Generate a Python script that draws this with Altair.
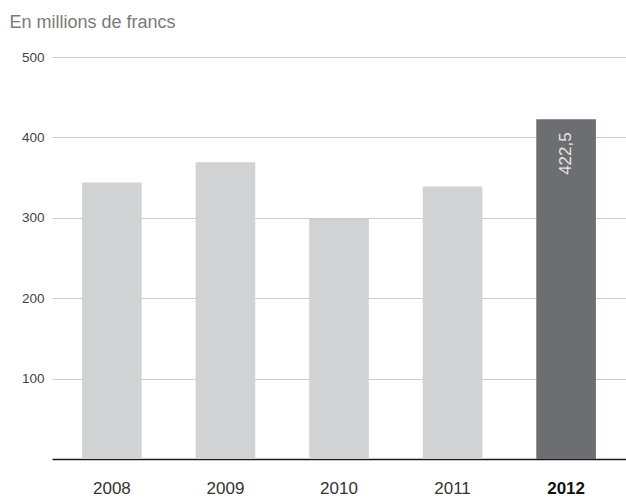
import altair as alt
import pandas as pd

years = ["2008", "2009", "2010", "2011", "2012"]
values = [344.0, 369.0, 298.5, 339.0, 422.5]
labels = ["", "", "", "", "422,5"]
highlight_year = "2012"
y_ticks = [100, 200, 300, 400, 500]

df = pd.DataFrame({"year": years, "value": values, "label": labels})

FONT = "Liberation Sans"

x_enc = alt.X(
    "year:N",
    sort=years,
    title=None,
    scale=alt.Scale(paddingInner=0.475, paddingOuter=0.265),
    axis=alt.Axis(
        labelAngle=0,
        ticks=False,
        domainColor="#1a1a1a",
        domainWidth=1.6,
        labelPadding=21,
        labelFontSize=17,
        labelFont=FONT,
        labelBaseline="top",
        labelColor={"condition": {"test": f"datum.value === '{highlight_year}'", "value": "#111111"}, "value": "#333333"},
        labelFontWeight={"condition": {"test": f"datum.value === '{highlight_year}'", "value": "bold"}, "value": "normal"},
    ),
)

bars = alt.Chart(df).mark_bar().encode(
    x=x_enc,
    y=alt.Y(
        "value:Q",
        title=None,
        scale=alt.Scale(domain=[0, 500], nice=False),
        axis=alt.Axis(
            values=y_ticks,
            domain=False,
            ticks=False,
            gridColor="#cccccc",
            gridWidth=1,
            labelPadding=8,
            labelFontSize=13.5,
            labelFont=FONT,
            labelColor="#444444",
        ),
    ),
    color=alt.condition(
        alt.datum.year == highlight_year,
        alt.value("#6d6e71"),
        alt.value("#d1d2d4"),
    ),
)

text = alt.Chart(df).transform_filter(alt.datum.label != "").mark_text(
    angle=270,
    align="right",
    baseline="middle",
    dx=-13,
    fontSize=17,
    font=FONT,
    color="#e6e6e6",
).encode(
    x=alt.X("year:N", sort=years),
    y=alt.Y("value:Q"),
    text="label:N",
)

chart = (
    alt.layer(bars, text)
    .properties(
        width=574,
        height=402,
        autosize=alt.AutoSizeParams(type="none"),
        padding={"left": 52, "top": 57, "right": 0, "bottom": 40},
        title=alt.TitleParams(
            "En millions de francs",
            anchor="start",
            dx=-12,
            fontSize=18,
            font=FONT,
            fontWeight="normal",
            color="#7a7a7a",
            offset=18,
        ),
    )
    .configure_view(stroke=None)
)

chart.save("out.html", embed_options={"renderer": "svg", "actions": False})
